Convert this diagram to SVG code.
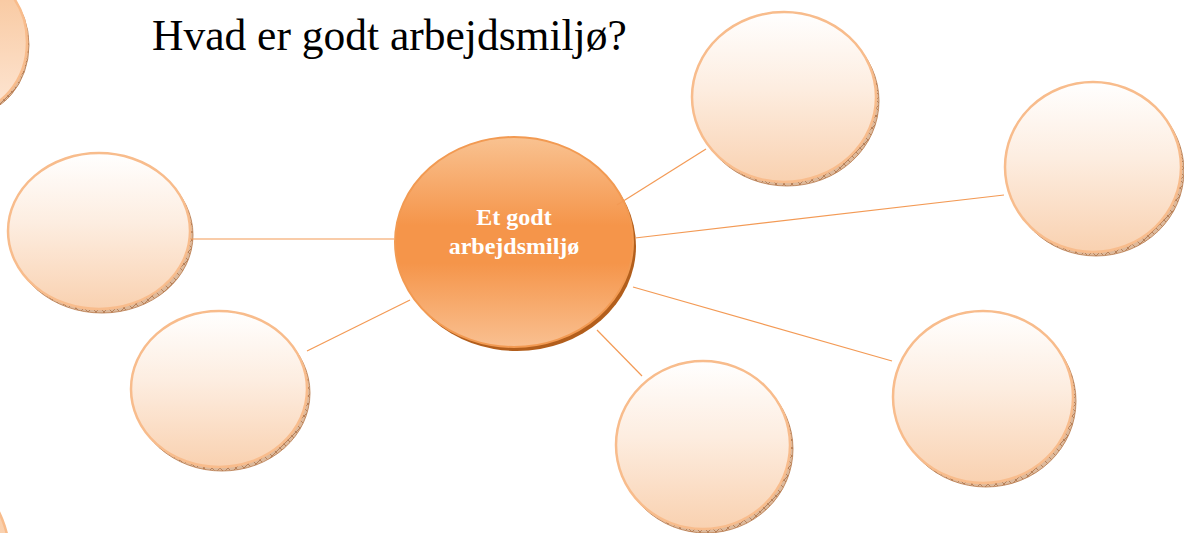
<svg xmlns="http://www.w3.org/2000/svg" width="1184" height="533" viewBox="0 0 1184 533">
  <style>
    .bubble { fill: url(#gOuter); stroke: #F8BC8C; stroke-width: 2.5; }
    .shadow { fill: url(#hatch); stroke: #B8794A; stroke-width: 0.8; }
    .conn { stroke: #F39A55; stroke-width: 1.2; fill: none; }
    .title { font-family: "Liberation Serif", "Times New Roman", serif; font-size: 43.5px; fill: #000; }
    .label { font-family: "Liberation Serif", "Times New Roman", serif; font-size: 24px; font-weight: bold; fill: #FFFFFF; text-anchor: middle; }
  </style>
  <defs>
    <linearGradient id="gOuter" x1="0" y1="0" x2="0" y2="1">
      <stop offset="0" stop-color="#FFFFFF"/>
      <stop offset="0.45" stop-color="#FDEDE0"/>
      <stop offset="1" stop-color="#F9D1B0"/>
    </linearGradient>
    <linearGradient id="gPartial" x1="0" y1="0" x2="0" y2="1">
      <stop offset="0" stop-color="#F8C498"/>
      <stop offset="1" stop-color="#FDE6D4"/>
    </linearGradient>
    <linearGradient id="gCenter" x1="0" y1="0" x2="0" y2="1">
      <stop offset="0" stop-color="#F9C291"/>
      <stop offset="0.42" stop-color="#F5954A"/>
      <stop offset="0.6" stop-color="#F5954A"/>
      <stop offset="1" stop-color="#F9C091"/>
    </linearGradient>
    <pattern id="hatch" width="8" height="8" patternUnits="userSpaceOnUse">
      <rect width="8" height="8" fill="#DDB99B"/>
      <path d="M0 0 L8 8 M8 0 L0 8" stroke="#A8683C" stroke-width="0.7"/>
    </pattern>
  </defs>

  <text class="title" x="152" y="50">Hvad er godt arbejdsmiljø?</text>

  <g id="node-partial-top-left">
    <ellipse class="shadow" cx="-31" cy="45" rx="60" ry="70"/>
    <ellipse cx="-33" cy="42" rx="60" ry="70" fill="url(#gPartial)" stroke="#F8BC8C" stroke-width="2.5"/>
  </g>

  <g id="node-partial-bottom-left">
    <circle cx="-100" cy="560" r="110" fill="url(#gPartial)" stroke="#F8BC8C" stroke-width="2.5"/>
  </g>

  <g id="node-left">
    <ellipse class="shadow" cx="102" cy="235" rx="91" ry="78"/>
    <ellipse class="bubble" cx="99" cy="231" rx="91" ry="78"/>
  </g>

  <g id="node-bottom-left">
    <ellipse class="shadow" cx="222" cy="393" rx="88" ry="78"/>
    <ellipse class="bubble" cx="219" cy="389" rx="88" ry="78"/>
  </g>

  <g id="node-top">
    <ellipse class="shadow" cx="787" cy="101" rx="92" ry="85"/>
    <ellipse class="bubble" cx="784" cy="97" rx="92" ry="85"/>
  </g>

  <g id="node-right">
    <ellipse class="shadow" cx="1096" cy="171" rx="88" ry="85"/>
    <ellipse class="bubble" cx="1093" cy="167" rx="88" ry="85"/>
  </g>

  <g id="node-bottom-center">
    <ellipse class="shadow" cx="706" cy="449" rx="87" ry="84"/>
    <ellipse class="bubble" cx="703" cy="445" rx="87" ry="84"/>
  </g>

  <g id="node-bottom-right">
    <ellipse class="shadow" cx="986" cy="401" rx="90" ry="86"/>
    <ellipse class="bubble" cx="983" cy="397" rx="90" ry="86"/>
  </g>

  <g id="node-center">
    <ellipse cx="517" cy="246" rx="119" ry="105" fill="#B25E1C"/>
    <ellipse cx="514" cy="242" rx="119" ry="105" fill="url(#gCenter)" stroke="#F29A52" stroke-width="2"/>
    <text class="label" x="514" y="225">Et godt</text>
    <text class="label" x="514" y="254">arbejdsmiljø</text>
  </g>

  <g id="connectors">
    <line class="conn" x1="191" y1="239" x2="394" y2="239"/>
    <line class="conn" x1="307" y1="351" x2="410" y2="300"/>
    <line class="conn" x1="617" y1="205" x2="706" y2="149"/>
    <line class="conn" x1="635" y1="238" x2="1004" y2="195"/>
    <line class="conn" x1="633" y1="287" x2="892" y2="361"/>
    <line class="conn" x1="597" y1="330" x2="642" y2="376"/>
  </g>
</svg>
